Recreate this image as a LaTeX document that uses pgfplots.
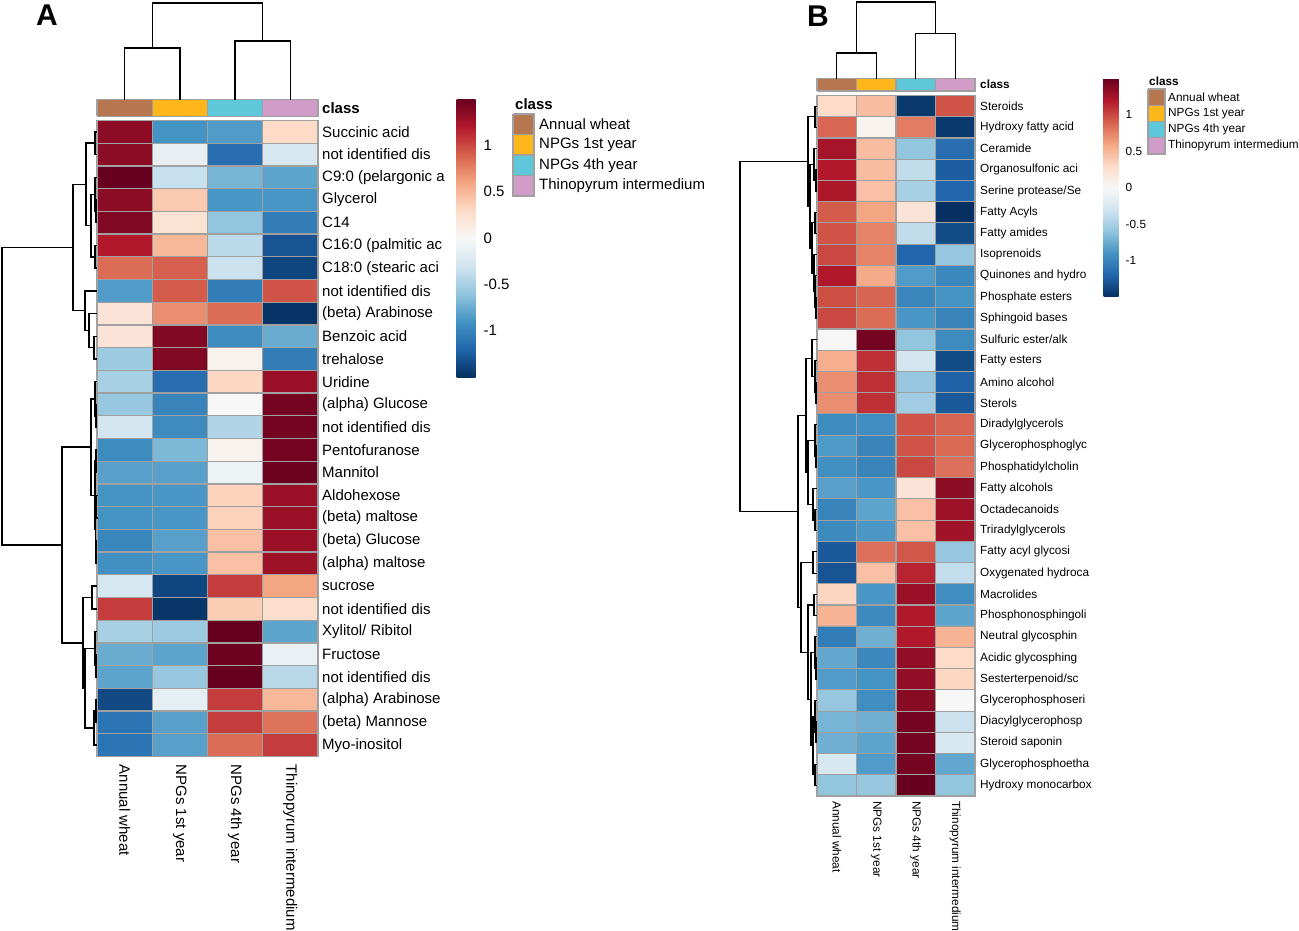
\documentclass[border=0pt]{standalone}
\usepackage{pgfplots}
\pgfplotsset{compat=1.18}
\usepackage{fontspec}
\setmainfont{Liberation Sans}
\definecolor{cAW}{RGB}{181,118,80}
\definecolor{cN1}{RGB}{253,183,26}
\definecolor{cN4}{RGB}{94,200,218}
\definecolor{cTI}{RGB}{210,156,200}
\definecolor{cellb}{RGB}{160,160,160}
\newcommand\fA{\fontsize{15}{18}\selectfont}
\newcommand\fB{\fontsize{11.8}{14}\selectfont}
\pgfplotsset{colormap={rdbu}{rgb255=(5,48,97) rgb255=(33,102,172) rgb255=(67,147,195) rgb255=(146,197,222) rgb255=(209,229,240) rgb255=(247,247,247) rgb255=(253,219,199) rgb255=(244,165,130) rgb255=(214,96,77) rgb255=(178,24,43) rgb255=(103,0,31)}}
% row dendrogram merge: child1 (x,y), child2 (x,y), node x
\newcommand\mgA[5]{\addplot[black, line width=1.5pt] coordinates {(#1,#2) (#5,#2) (#5,#4) (#3,#4)};}
\newcommand\mgB[5]{\addplot[black, line width=1.1pt] coordinates {(#1,#2) (#5,#2) (#5,#4) (#3,#4)};}
% column dendrogram merge: child1 (x,h), child2 (x,h), node h
\newcommand\cmgA[5]{\addplot[black, line width=1.5pt] coordinates {(#1,#2) (#1,#5) (#3,#5) (#3,#4)};}
\newcommand\cmgB[5]{\addplot[black, line width=1.1pt] coordinates {(#1,#2) (#1,#5) (#3,#5) (#3,#4)};}

\pgfplotstableread{
x y c
0 0 1.35
1 0 -0.9
2 0 -0.85
3 0 0.3
0 1 1.35
1 1 -0.12
2 1 -1.15
3 1 -0.25
0 2 1.5
1 2 -0.35
2 2 -0.7
3 2 -0.8
0 3 1.35
1 3 0.4
2 3 -0.88
3 3 -0.88
0 4 1.4
1 4 0.22
2 4 -0.6
3 4 -1.05
0 5 1.2
1 5 0.5
2 5 -0.4
3 5 -1.3
0 6 0.85
1 6 0.9
2 6 -0.33
3 6 -1.38
0 7 -0.85
1 7 0.92
2 7 -1.05
3 7 0.95
0 8 0.2
1 8 0.7
2 8 0.85
3 8 -1.48
0 9 0.2
1 9 1.4
2 9 -0.95
3 9 -0.75
0 10 -0.55
1 10 1.4
2 10 0.05
3 10 -1.05
0 11 -0.5
1 11 -1.15
2 11 0.32
3 11 1.3
0 12 -0.57
1 12 -1.0
2 12 0.0
3 12 1.45
0 13 -0.28
1 13 -0.95
2 13 -0.45
3 13 1.45
0 14 -0.95
1 14 -0.68
2 14 0.05
3 14 1.45
0 15 -0.82
1 15 -0.82
2 15 -0.08
3 15 1.48
0 16 -0.9
1 16 -0.88
2 16 0.35
3 16 1.3
0 17 -0.9
1 17 -0.88
2 17 0.35
3 17 1.3
0 18 -0.98
1 18 -0.82
2 18 0.45
3 18 1.3
0 19 -0.92
1 19 -0.88
2 19 0.45
3 19 1.28
0 20 -0.27
1 20 -1.38
2 20 1.05
3 20 0.6
0 21 1.05
1 21 -1.47
2 21 0.38
3 21 0.27
0 22 -0.5
1 22 -0.55
2 22 1.5
3 22 -0.8
0 23 -0.75
1 23 -0.8
2 23 1.48
3 23 -0.1
0 24 -0.8
1 24 -0.57
2 24 1.5
3 24 -0.42
0 25 -1.36
1 25 -0.15
2 25 1.05
3 25 0.5
0 26 -1.1
1 26 -0.82
2 26 1.05
3 26 0.82
0 27 -1.1
1 27 -0.82
2 27 0.85
3 27 1.05
}\dataA

\pgfplotstableread{
x y c
0 0 0.28
1 0 0.47
2 0 -1.45
3 0 0.95
0 1 0.87
1 1 0.05
2 1 0.78
3 1 -1.45
0 2 1.25
1 2 0.47
2 2 -0.6
3 2 -1.15
0 3 1.2
1 3 0.47
2 3 -0.38
3 3 -1.25
0 4 1.22
1 4 0.45
2 4 -0.5
3 4 -1.2
0 5 0.92
1 5 0.6
2 5 0.2
3 5 -1.5
0 6 0.95
1 6 0.75
2 6 -0.38
3 6 -1.35
0 7 1.0
1 7 0.75
2 7 -1.2
3 7 -0.58
0 8 1.2
1 8 0.57
2 8 -0.85
3 8 -0.97
0 9 0.97
1 9 0.88
2 9 -0.98
3 9 -0.9
0 10 1.0
1 10 0.85
2 10 -0.88
3 10 -1.0
0 11 0.0
1 11 1.45
2 11 -0.6
3 11 -0.95
0 12 0.55
1 12 1.1
2 12 -0.28
3 12 -1.35
0 13 0.7
1 13 1.1
2 13 -0.58
3 13 -1.22
0 14 0.7
1 14 1.1
2 14 -0.53
3 14 -1.27
0 15 -0.95
1 15 -0.93
2 15 0.95
3 15 0.88
0 16 -0.86
1 16 -1.0
2 16 0.95
3 16 0.86
0 17 -0.92
1 17 -1.0
2 17 1.0
3 17 0.83
0 18 -0.82
1 18 -0.88
2 18 0.2
3 18 1.35
0 19 -1.0
1 19 -0.8
2 19 0.45
3 19 1.28
0 20 -0.96
1 20 -0.87
2 20 0.45
3 20 1.27
0 21 -1.27
1 21 0.83
2 21 0.94
3 21 -0.58
0 22 -1.3
1 22 0.45
2 22 1.15
3 22 -0.37
0 23 0.33
1 23 -0.88
2 23 1.3
3 23 -0.93
0 24 0.52
1 24 -0.96
2 24 1.2
3 24 -0.8
0 25 -1.05
1 25 -0.73
2 25 1.2
3 25 0.52
0 26 -0.78
1 26 -0.97
2 26 1.33
3 26 0.28
0 27 -0.85
1 27 -0.9
2 27 1.33
3 27 0.32
0 28 -0.58
1 28 -0.93
2 28 1.37
3 28 0.0
0 29 -0.7
1 29 -0.73
2 29 1.45
3 29 -0.33
0 30 -0.73
1 30 -0.8
2 30 1.45
3 30 -0.25
0 31 -0.25
1 31 -0.85
2 31 1.45
3 31 -0.78
0 32 -0.6
1 32 -0.58
2 32 1.5
3 32 -0.6
}\dataB

\begin{document}
\begin{tikzpicture}
\useasboundingbox (0,0) rectangle (1299pt,-931pt);

% ================= PANEL A =================
\node[anchor=north west, inner sep=0pt, font=\bfseries\fontsize{30}{36}\selectfont] at (36pt,-5pt) {A};

% heatmap A
\begin{axis}[
  at={(97pt,-120.5pt)}, anchor=north west, scale only axis,
  width=221pt, height=636pt,
  xmin=-0.5, xmax=3.5, ymin=-0.5, ymax=27.5, y dir=reverse,
  colormap name=rdbu, point meta min=-1.5, point meta max=1.5,
  xtick={0,1,2,3},
  xticklabels={Annual wheat, NPGs 1st year, NPGs 4th year, Thinopyrum intermedium},
  xticklabel style={rotate=-90, anchor=west, font=\fA, inner sep=8pt},
  ytick={0,...,27},
  yticklabels={Succinic acid, not identified dis, C9:0 (pelargonic a, Glycerol, C14, C16:0 (palmitic ac, C18:0 (stearic aci, not identified dis, (beta) Arabinose, Benzoic acid, trehalose, Uridine, (alpha) Glucose, not identified dis, Pentofuranose, Mannitol, Aldohexose, (beta) maltose, (beta) Glucose, (alpha) maltose, sucrose, not identified dis, Xylitol/ Ribitol, Fructose, not identified dis, (alpha) Arabinose, (beta) Mannose, Myo-inositol},
  yticklabel pos=right,
  yticklabel style={anchor=west, font=\fA, inner sep=4pt},
  major tick length=0pt,
  minor xtick={0.5,1.5,2.5}, minor ytick={0.5,1.5,...,26.5},
  minor tick length=0pt,
  xminorgrids, yminorgrids, minor grid style={cellb, line width=1.3pt},
  axis line style={cellb, line width=1.3pt},
  axis on top,
  colorbar right,
  colorbar/width=19pt,
  colorbar style={
    at={(parent axis.north east)}, anchor=north west,
    xshift=130pt, yshift=21.5pt,
    scale only axis, width=19pt, height=278pt,
    y dir=normal,
    ytick={-1,-0.5,0,0.5,1}, yticklabels={-1,-0.5,0,0.5,1},
    yticklabel style={font=\fA, anchor=west, inner sep=0pt, xshift=8pt},
    major tick length=0pt, axis line style={draw=none},
  },
]
\addplot[matrix plot*, mesh/cols=4, point meta=explicit] table[x=x, y=y, meta=c] {\dataA};
\end{axis}

% class bar A
\begin{axis}[
  at={(97pt,-99.5pt)}, anchor=north west, scale only axis,
  width=221pt, height=17pt,
  xmin=-0.5, xmax=3.5, ymin=0, ymax=1,
  xtick=\empty, ytick={0.5}, yticklabels={\textbf{class}},
  yticklabel pos=right, yticklabel style={anchor=west, font=\fA, inner sep=4pt},
  major tick length=0pt, axis line style={draw=none}, clip=false,
]
\addplot[fill=cAW, draw=cellb, line width=1.3pt] coordinates {(-0.5,0) (0.5,0) (0.5,1) (-0.5,1) (-0.5,0)};
\addplot[fill=cN1, draw=cellb, line width=1.3pt] coordinates {(0.5,0) (1.5,0) (1.5,1) (0.5,1) (0.5,0)};
\addplot[fill=cN4, draw=cellb, line width=1.3pt] coordinates {(1.5,0) (2.5,0) (2.5,1) (1.5,1) (1.5,0)};
\addplot[fill=cTI, draw=cellb, line width=1.3pt] coordinates {(2.5,0) (3.5,0) (3.5,1) (2.5,1) (2.5,0)};
\end{axis}

% legend A
\begin{axis}[
  at={(513pt,-114pt)}, anchor=north west, scale only axis,
  width=21pt, height=82pt,
  xmin=0, xmax=1, ymin=0, ymax=4, y dir=reverse,
  xtick=\empty, ytick={0.5,1.5,2.5,3.5},
  yticklabels={Annual wheat, NPGs 1st year, NPGs 4th year, Thinopyrum intermedium},
  yticklabel pos=right, yticklabel style={anchor=west, font=\fA, inner sep=5pt},
  major tick length=0pt, axis line style={draw=none}, clip=false,
  title={\textbf{class}}, title style={at={(0,1)}, anchor=south west, font=\fA, inner sep=2pt, yshift=-4pt},
]
\addplot[fill=cAW, draw=cellb, line width=1.3pt] coordinates {(0,0) (1,0) (1,1) (0,1) (0,0)};
\addplot[fill=cN1, draw=cellb, line width=1.3pt] coordinates {(0,1) (1,1) (1,2) (0,2) (0,1)};
\addplot[fill=cN4, draw=cellb, line width=1.3pt] coordinates {(0,2) (1,2) (1,3) (0,3) (0,2)};
\addplot[fill=cTI, draw=cellb, line width=1.3pt] coordinates {(0,3) (1,3) (1,4) (0,4) (0,3)};
\end{axis}

% column dendrogram A
\begin{axis}[
  at={(97pt,-2.5pt)}, anchor=north west, scale only axis,
  width=221pt, height=97pt,
  xmin=-0.5, xmax=3.5, ymin=0, ymax=97, hide axis, clip=false,
]
\cmgA{0}{0}{1}{0}{51.5}
\cmgA{2}{0}{3}{0}{58.5}
\cmgA{0.5}{51.5}{2.5}{58.5}{96.5}
\end{axis}

% row dendrogram A
\begin{axis}[
  at={(0pt,-120.5pt)}, anchor=north west, scale only axis,
  width=97pt, height=636pt,
  xmin=0, xmax=97, ymin=-0.5, ymax=27.5, y dir=reverse, hide axis, clip=false,
]
\mgA{97}{0}{97}{1}{95}
\mgA{97}{3}{97}{4}{96}
\mgA{97}{2}{96}{3.5}{95}
\mgA{97}{5}{97}{6}{95}
\mgA{95}{2.75}{95}{5.5}{91}
\mgA{95}{0.5}{91}{4.125}{86}
\mgA{97}{9}{97}{10}{94}
\mgA{97}{8}{94}{9.5}{89}
\mgA{97}{7}{89}{8.75}{85}
\mgA{86}{2.3125}{85}{7.875}{73}
\mgA{97}{12}{97}{13}{96}
\mgA{97}{11}{96}{12.5}{95}
\mgA{97}{14}{97}{15}{96}
\mgA{97}{16}{97}{17}{96.5}
\mgA{97}{18}{97}{19}{96}
\mgA{96.5}{16.5}{96}{18.5}{95.5}
\mgA{96}{14.5}{95.5}{17.5}{95}
\mgA{95}{11.75}{95}{16}{91}
\mgA{97}{20}{97}{21}{92}
\mgA{97}{23}{97}{24}{96}
\mgA{97}{22}{96}{23.5}{95}
\mgA{97}{25}{97}{26}{96}
\mgA{96}{25.5}{97}{27}{94}
\mgA{95}{22.75}{94}{26.25}{85}
\mgA{92}{20.5}{85}{24.5}{83}
\mgA{91}{13.875}{83}{22.5}{62}
\mgA{73}{5.09375}{62}{18.1875}{2}
\end{axis}

% ================= PANEL B =================
\node[anchor=north west, inner sep=0pt, font=\bfseries\fontsize{30}{36}\selectfont] at (807pt,-6pt) {B};

\begin{axis}[
  at={(817pt,-95.5pt)}, anchor=north west, scale only axis,
  width=158pt, height=700.5pt,
  xmin=-0.5, xmax=3.5, ymin=-0.5, ymax=32.5, y dir=reverse,
  colormap name=rdbu, point meta min=-1.5, point meta max=1.5,
  xtick={0,1,2,3},
  xticklabels={Annual wheat, NPGs 1st year, NPGs 4th year, Thinopyrum intermedium},
  xticklabel style={rotate=-90, anchor=west, font=\fB, inner sep=5pt},
  ytick={0,...,32},
  yticklabels={Steroids, Hydroxy fatty acid, Ceramide, Organosulfonic aci, Serine protease/Se, Fatty Acyls, Fatty amides, Isoprenoids, Quinones and hydro, Phosphate esters, Sphingoid bases, Sulfuric ester/alk, Fatty esters, Amino alcohol, Sterols, Diradylglycerols, Glycerophosphoglyc, Phosphatidylcholin, Fatty alcohols, Octadecanoids, Triradylglycerols, Fatty acyl glycosi, Oxygenated hydroca, Macrolides, Phosphonosphingoli, Neutral glycosphin, Acidic glycosphing, Sesterterpenoid/sc, Glycerophosphoseri, Diacylglycerophosp, Steroid saponin, Glycerophosphoetha, Hydroxy monocarbox},
  yticklabel pos=right,
  yticklabel style={anchor=west, font=\fB, inner sep=5pt},
  major tick length=0pt,
  minor xtick={0.5,1.5,2.5}, minor ytick={0.5,1.5,...,31.5},
  minor tick length=0pt,
  xminorgrids, yminorgrids, minor grid style={cellb, line width=1.1pt},
  axis line style={cellb, line width=1.1pt},
  axis on top,
  colorbar right,
  colorbar/width=15pt,
  colorbar style={
    at={(parent axis.north east)}, anchor=north west,
    xshift=120pt, yshift=17.5pt,
    scale only axis, width=15pt, height=219pt,
    y dir=normal,
    ytick={-1,-0.5,0,0.5,1}, yticklabels={-1,-0.5,0,0.5,1},
    yticklabel style={font=\fB, anchor=west, inner sep=0pt, xshift=7pt},
    major tick length=0pt, axis line style={draw=none},
  },
]
\addplot[matrix plot*, mesh/cols=4, point meta=explicit] table[x=x, y=y, meta=c] {\dataB};
\end{axis}

% class bar B
\begin{axis}[
  at={(817pt,-78.5pt)}, anchor=north west, scale only axis,
  width=158pt, height=12.5pt,
  xmin=-0.5, xmax=3.5, ymin=0, ymax=1,
  xtick=\empty, ytick={0.5}, yticklabels={\textbf{class}},
  yticklabel pos=right, yticklabel style={anchor=west, font=\fB, inner sep=5pt},
  major tick length=0pt, axis line style={draw=none}, clip=false,
]
\addplot[fill=cAW, draw=cellb, line width=1.1pt] coordinates {(-0.5,0) (0.5,0) (0.5,1) (-0.5,1) (-0.5,0)};
\addplot[fill=cN1, draw=cellb, line width=1.1pt] coordinates {(0.5,0) (1.5,0) (1.5,1) (0.5,1) (0.5,0)};
\addplot[fill=cN4, draw=cellb, line width=1.1pt] coordinates {(1.5,0) (2.5,0) (2.5,1) (1.5,1) (1.5,0)};
\addplot[fill=cTI, draw=cellb, line width=1.1pt] coordinates {(2.5,0) (3.5,0) (3.5,1) (2.5,1) (2.5,0)};
\end{axis}

% legend B
\begin{axis}[
  at={(1148pt,-89pt)}, anchor=north west, scale only axis,
  width=17pt, height=65pt,
  xmin=0, xmax=1, ymin=0, ymax=4, y dir=reverse,
  xtick=\empty, ytick={0.5,1.5,2.5,3.5},
  yticklabels={Annual wheat, NPGs 1st year, NPGs 4th year, Thinopyrum intermedium},
  yticklabel pos=right, yticklabel style={anchor=west, font=\fB, inner sep=3pt},
  major tick length=0pt, axis line style={draw=none}, clip=false,
  title={\textbf{class}}, title style={at={(0,1)}, anchor=south west, font=\fB, inner sep=1pt, yshift=-4pt},
]
\addplot[fill=cAW, draw=cellb, line width=1.1pt] coordinates {(0,0) (1,0) (1,1) (0,1) (0,0)};
\addplot[fill=cN1, draw=cellb, line width=1.1pt] coordinates {(0,1) (1,1) (1,2) (0,2) (0,1)};
\addplot[fill=cN4, draw=cellb, line width=1.1pt] coordinates {(0,2) (1,2) (1,3) (0,3) (0,2)};
\addplot[fill=cTI, draw=cellb, line width=1.1pt] coordinates {(0,3) (1,3) (1,4) (0,4) (0,3)};
\end{axis}

% column dendrogram B
\begin{axis}[
  at={(817pt,-1.5pt)}, anchor=north west, scale only axis,
  width=158pt, height=77pt,
  xmin=-0.5, xmax=3.5, ymin=0, ymax=77, hide axis, clip=false,
]
\cmgB{0}{0}{1}{0}{25.5}
\cmgB{2}{0}{3}{0}{45}
\cmgB{0.5}{25.5}{2.5}{45}{76.5}
\end{axis}

% row dendrogram B
\begin{axis}[
  at={(730pt,-95.5pt)}, anchor=north west, scale only axis,
  width=87pt, height=700.5pt,
  xmin=730, xmax=817, ymin=-0.5, ymax=32.5, y dir=reverse, hide axis, clip=false,
]
% upper cluster: rows 0-10
\mgB{817}{0}{817}{1}{815}
\mgB{817}{3}{817}{4}{816}
\mgB{817}{2}{816}{3.5}{814}
\mgB{817}{5}{817}{6}{815}
\mgB{817}{9}{817}{10}{816}
\mgB{817}{8}{816}{9.5}{815}
\mgB{817}{7}{815}{8.75}{814}
\mgB{815}{5.5}{814}{7.875}{812}
\mgB{814}{2.75}{812}{6.6875}{810}
\mgB{815}{0.5}{810}{4.71875}{808}
% lower cluster: rows 11-32
\mgB{817}{13}{817}{14}{816}
\mgB{817}{12}{816}{13.5}{815}
\mgB{817}{11}{815}{12.75}{812}
\mgB{817}{16}{817}{17}{816}
\mgB{817}{15}{816}{16.5}{815}
\mgB{817}{19}{817}{20}{815}
\mgB{817}{18}{815}{19.5}{813}
\mgB{815}{15.75}{813}{18.75}{808}
\mgB{812}{11.875}{808}{17.25}{806}
\mgB{817}{21}{817}{22}{813}
\mgB{817}{23}{817}{24}{814}
\mgB{817}{26}{817}{27}{816}
\mgB{817}{25}{816}{26.5}{815}
\mgB{817}{29}{817}{30}{816}
\mgB{817}{28}{816}{29.5}{815}
\mgB{817}{31}{817}{32}{815}
\mgB{815}{28.75}{815}{31.5}{813}
\mgB{815}{25.75}{813}{30.125}{811}
\mgB{814}{23.5}{811}{27.9375}{808}
\mgB{813}{21.5}{808}{25.71875}{801}
\mgB{806}{14.5625}{801}{23.609375}{798}
\mgB{808}{2.609375}{798}{19.0859375}{740}
\end{axis}

\end{tikzpicture}
\end{document}
